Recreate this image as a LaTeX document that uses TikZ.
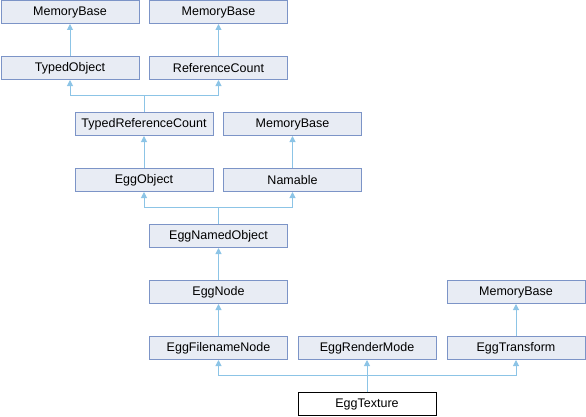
\documentclass[tikz,border=0pt]{standalone}
\usepackage{fontspec}
\setmainfont{Liberation Sans}
\usepackage{tikz}
\usetikzlibrary{arrows.meta}
\definecolor{boxfill}{RGB}{232,236,244}
\definecolor{boxline}{RGB}{124,148,199}
\definecolor{edgeblue}{RGB}{140,196,230}
\tikzset{
  cls/.style={draw=boxline, fill=boxfill, line width=1pt, minimum width=138pt,
    minimum height=23pt, inner sep=0pt, font=\fontsize{12.5}{15}\selectfont},
  self/.style={cls, draw=black, fill=white},
  edge/.style={draw=edgeblue, line width=1pt, -{Triangle[length=6pt,width=6pt]}}
}
\begin{document}
\begin{tikzpicture}[x=1pt,y=1pt]
          \useasboundingbox (0,0) rectangle (586,416);
          % top rows
          \node (mbA) at (70,404)  [cls] {MemoryBase};
          \node (mbB) at (218.5,404)  [cls] {MemoryBase};
          \node (tobj) at (70,348)  [cls] {TypedObject};
          \node (refc) at (218.5,348)  [cls] {ReferenceCount};
          \node (trc) at (144,292)  [cls] {TypedReferenceCount};
          \node (mbC) at (292.5,292)  [cls] {MemoryBase};
          \node (eobj) at (144,236)  [cls] {EggObject};
          \node (nam) at (292.5,236)  [cls] {Namable};
          \node (enobj) at (218.5,180)  [cls] {EggNamedObject};
          \node (enode) at (218.5,124)  [cls] {EggNode};
          \node (mbD) at (516,124)  [cls] {MemoryBase};
          \node (efn) at (218.5,68)  [cls] {EggFilenameNode};
          \node (erm) at (367,68)  [cls] {EggRenderMode};
          \node (etr) at (516,68)  [cls] {EggTransform};
          \node (etex) at (367,12)  [self] {EggTexture};
          % single parents
          \draw[edge] (tobj.north) to (mbA.south);
          \draw[edge] (refc.north) to (mbB.south);
          \draw[edge] (nam.north) to (mbC.south);
          \draw[edge] (eobj.north) to (trc.south);
          \draw[edge] (enode.north) to (enobj.south);
          \draw[edge] (efn.north) to (enode.south);
          \draw[edge] (etr.north) to (mbD.south);
          % merged parents
          \draw[edge] (trc.north) -- ++(0,16.5) -| (tobj.south);
          \draw[edge] (trc.north) -- ++(0,16.5) -| (refc.south);
          \draw[edge] (enobj.north) -- ++(0,16.5) -| (eobj.south);
          \draw[edge] (enobj.north) -- ++(0,16.5) -| (nam.south);
          \draw[edge] (etex.north) -- ++(0,16.5) -| (efn.south);
          \draw[edge] (etex.north) to (erm.south);
          \draw[edge] (etex.north) -- ++(0,16.5) -| (etr.south);
        \end{tikzpicture}
\end{document}
